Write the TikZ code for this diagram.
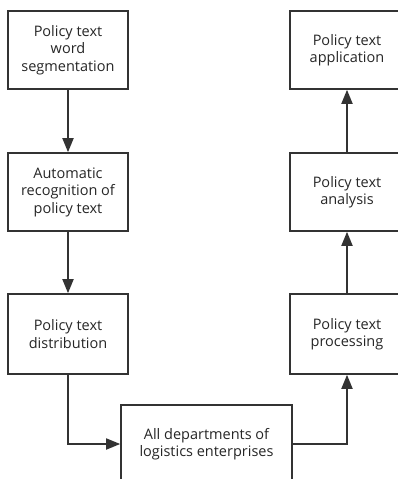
\documentclass[tikz,border=0pt]{standalone}
\usepackage{fontspec}
\setmainfont{Open Sans}
\usetikzlibrary{arrows.meta}

\begin{document}
\begin{tikzpicture}[x=1pt,y=-1pt,
    stage/.style={draw=black!80, line width=1.6pt, minimum width=120pt, minimum height=78pt,
      inner sep=0pt, align=center, text=black!85, font=\fontsize{14.5}{17.5}\selectfont},
    flow/.style={draw=black!80, line width=1.8pt, -{Triangle[length=14pt,width=11pt]}}]
    % page frame, boxes at the right and bottom run off the page
    \useasboundingbox (0,0) rectangle (398,479);
    \clip (0,0) rectangle (398,479);

    % left column, going down
    \node[stage] (seg) at (68,50) {Policy text\\word\\segmentation};
    \node[stage] (recog) at (68,192) {Automatic\\recognition of\\policy text};
    \node[stage, minimum height=80pt] (distr) at (68,334) {Policy text\\distribution};

    % right column, going up
    \node[stage, minimum width=114pt] (appl) at (347,50) {Policy text\\application};
    \node[stage, minimum width=114pt] (anal) at (347,192) {Policy text\\analysis};
    \node[stage, minimum width=114pt, minimum height=80pt] (proc) at (347,334) {Policy text\\processing};

    % departments box at the bottom
    \node[stage, minimum width=171pt] (dept) at (206.5,444) {All departments of\\logistics enterprises};

    % Arrows
    \draw[flow] (seg) -- (recog);
    \draw[flow] (recog) -- (distr);
    \draw[flow] (distr.south) |- (dept.west);
    \draw[flow] (dept.east) -| (proc.south);
    \draw[flow] (proc) -- (anal);
    \draw[flow] (anal) -- (appl);
\end{tikzpicture}
\end{document}
